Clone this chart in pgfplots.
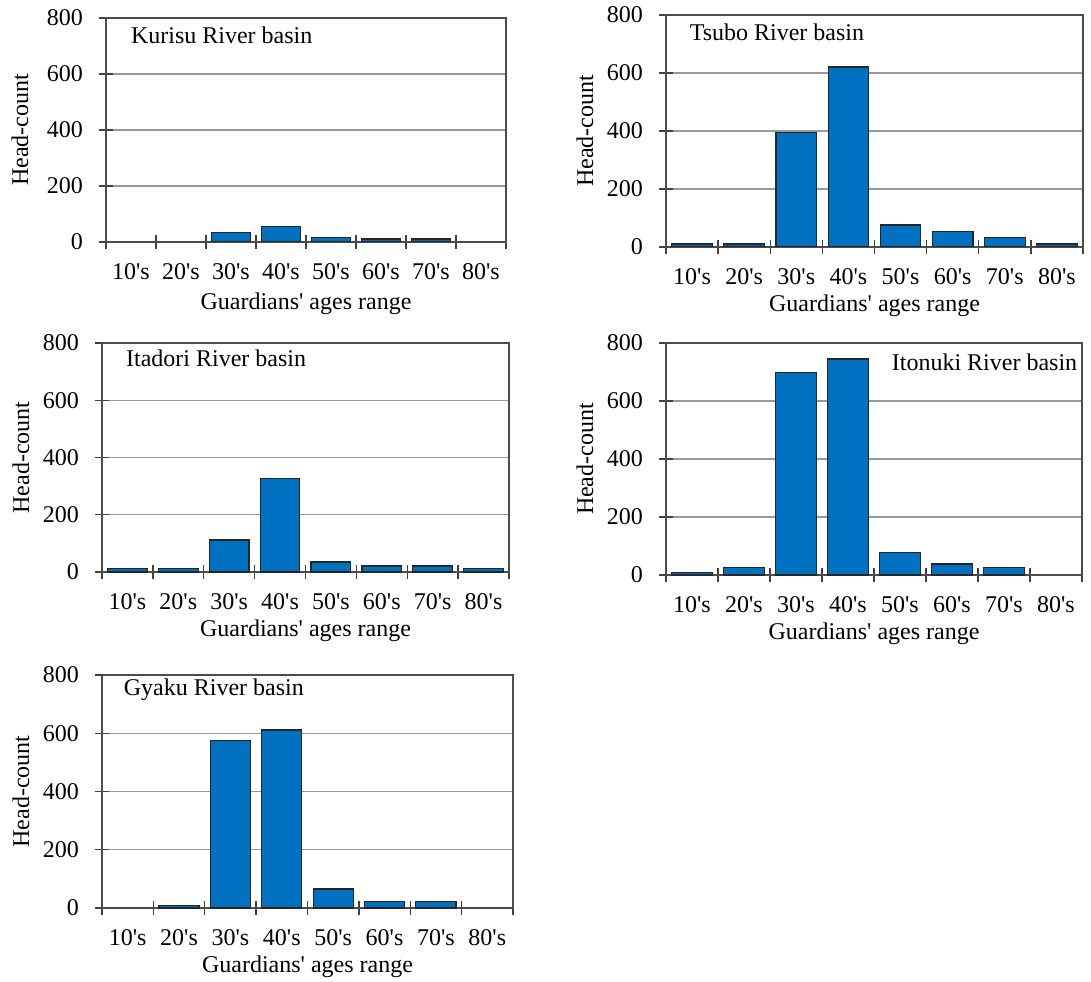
\documentclass[border=0pt]{standalone}
\usepackage{fontspec}
\setmainfont{Liberation Serif}[Ligatures=TeXOff]
\usepackage{pgfplots}
\pgfplotsset{compat=1.18}
\definecolor{barblue}{RGB}{0,112,192}
\pgfplotsset{
 panel/.style={
  scale only axis,
  ybar, bar width=0.78, bar shift=0pt,
  xmin=0.5, xmax=8.5, ymin=0, ymax=800,
  xtick={0.5,1.5,...,8.5},
  x tick label as interval,
  xticklabels={10's,20's,30's,40's,50's,60's,70's,80's},
  ytick={0,200,...,800},
  ymajorgrids, grid style={gray!80, line width=0.6pt},
  axis line style={black!70, line width=0.7pt},
  tick style={black!75, line width=0.7pt},
  major tick length=7pt, tick align=center,
  xtick pos=bottom, ytick pos=left,
  /pgf/number format/assume math mode=true,
  tick label style={font=\fontsize{12}{14}\selectfont},
  xticklabel style={yshift=-3.5pt},
  yticklabel style={xshift=-4.5pt},
  label style={font=\fontsize{12}{14}\selectfont},
  xlabel={Guardians' ages range}, ylabel={Head-count},
  xlabel style={at={([yshift=-29.5pt]axis description cs:0.5,0)}, anchor=center},
  ylabel style={at={([xshift=-40.5pt]axis description cs:0,0.5)}, anchor=center},
  anchor=south west,
 },
 bars/.style={fill=barblue, draw=black!85, line width=0.6pt},
}
\newcommand{\ttl}{\fontsize{12}{14}\selectfont}
\begin{document}
\begin{tikzpicture}
\path[use as bounding box] (0,0) rectangle (545.5pt,490.5pt);
% Kurisu
\begin{axis}[panel, at={(53pt,369.5pt)}, width=200pt, height=112pt,
  xlabel style={at={([yshift=-31pt]axis description cs:0.5,0)}, anchor=center},
  ylabel style={at={([xshift=-43pt]axis description cs:0,0.5)}, anchor=center}]
\addplot[bars] coordinates {(3,34) (4,54) (5,15) (6,11) (7,11)};
\node[anchor=west, font=\ttl] at (rel axis cs:0.045,0.924) {Kurisu River basin};
\end{axis}
% Tsubo
\begin{axis}[panel, at={(333pt,367pt)}, width=208.5pt, height=116pt]
\addplot[bars] coordinates {(1,10) (2,10) (3,395) (4,621) (5,76) (6,53) (7,33) (8,10)};
\node[anchor=west, font=\ttl] at (rel axis cs:0.04,0.927) {Tsubo River basin};
\end{axis}
% Itadori
\begin{axis}[panel, at={(51pt,204.5pt)}, width=203.5pt, height=114.5pt]
\addplot[bars] coordinates {(1,12) (2,12) (3,112) (4,326) (5,35) (6,21) (7,21) (8,12)};
\node[anchor=west, font=\ttl] at (rel axis cs:0.042,0.935) {Itadori River basin};
\end{axis}
% Itonuki
\begin{axis}[panel, at={(333pt,203pt)}, width=208pt, height=116pt]
\addplot[bars] coordinates {(1,9) (2,25) (3,698) (4,745) (5,77) (6,38) (7,25)};
\node[anchor=west, font=\ttl] at (rel axis cs:0.526,0.918) {Itonuki River basin};
\end{axis}
% Gyaku
\begin{axis}[panel, at={(51pt,36.5pt)}, width=205.5pt, height=116.5pt]
\addplot[bars] coordinates {(2,8) (3,574) (4,611) (5,65) (6,23) (7,23)};
\node[anchor=west, font=\ttl] at (rel axis cs:0.036,0.936) {Gyaku River basin};
\end{axis}
\end{tikzpicture}
\end{document}
